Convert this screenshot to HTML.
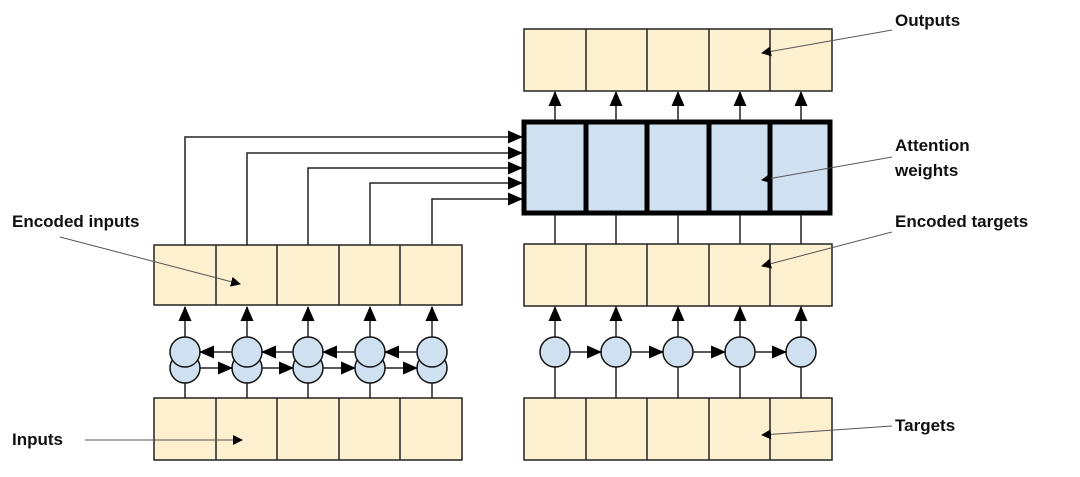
<!DOCTYPE html>
<html><head><meta charset="utf-8"><style>
body{margin:0;background:#fff;}
svg{display:block;}
text{font-family:"Liberation Sans",sans-serif;font-weight:bold;font-size:17px;fill:#111;}
</style></head><body>
<svg width="1080" height="477" viewBox="0 0 1080 477" xmlns="http://www.w3.org/2000/svg">
<defs>
<marker id="a" markerWidth="10" markerHeight="10" refX="9" refY="5" orient="auto" markerUnits="userSpaceOnUse"><path d="M0,0 L10,5 L0,10z" fill="#000"/></marker>
<marker id="b" markerWidth="15" markerHeight="13" refX="14" refY="6.5" orient="auto" markerUnits="userSpaceOnUse"><path d="M0,0 L15,6.5 L0,13z" fill="#000"/></marker>
</defs>
<g stroke="#222" stroke-width="1.5" fill="#fdf0cf">
<rect x="154" y="245" width="308" height="60"/>
<rect x="154" y="398" width="308" height="62"/>
<rect x="524" y="29" width="308" height="62"/>
<rect x="524" y="244" width="308" height="62"/>
<rect x="524" y="398" width="308" height="62"/>
<path d="M216 245V305M277 245V305M339 245V305M400 245V305 M216 398V460M277 398V460M339 398V460M400 398V460 M586 29V91M647 29V91M709 29V91M770 29V91 M586 244V306M647 244V306M709 244V306M770 244V306 M586 398V460M647 398V460M709 398V460M770 398V460" fill="none"/>
</g>
<rect x="524" y="122" width="306" height="91" fill="#cfe0f1" stroke="#000" stroke-width="5"/>
<path d="M586 122V213M647 122V213M709 122V213M770 122V213" stroke="#000" stroke-width="5"/>
<g stroke="#222" stroke-width="1.5" fill="none">
<path d="M185 245V137H522" marker-end="url(#b)"/>
<path d="M247 245V153H522" marker-end="url(#b)"/>
<path d="M308 245V168H522" marker-end="url(#b)"/>
<path d="M370 245V183H522" marker-end="url(#b)"/>
<path d="M432 245V199H522" marker-end="url(#b)"/>
<path d="M185 398V383M247 398V383M308 398V383M370 398V383M432 398V383"/>
<path d="M555 398V367M616 398V367M678 398V367M740 398V367M801 398V367"/>
<path d="M555 244V215M616 244V215M678 244V215M740 244V215M801 244V215"/>
<path d="M185 337V307" marker-end="url(#b)"/>
<path d="M247 337V307" marker-end="url(#b)"/>
<path d="M308 337V307" marker-end="url(#b)"/>
<path d="M370 337V307" marker-end="url(#b)"/>
<path d="M432 337V307" marker-end="url(#b)"/>
<path d="M555 337V307" marker-end="url(#b)"/>
<path d="M616 337V307" marker-end="url(#b)"/>
<path d="M678 337V307" marker-end="url(#b)"/>
<path d="M740 337V307" marker-end="url(#b)"/>
<path d="M801 337V307" marker-end="url(#b)"/>
<path d="M555 120V92" marker-end="url(#b)"/>
<path d="M616 120V92" marker-end="url(#b)"/>
<path d="M678 120V92" marker-end="url(#b)"/>
<path d="M740 120V92" marker-end="url(#b)"/>
<path d="M801 120V92" marker-end="url(#b)"/>
</g>
<g stroke="#111" stroke-width="1.5" fill="#cfe0f1">
<circle cx="185" cy="368" r="15"/><circle cx="247" cy="368" r="15"/><circle cx="308" cy="368" r="15"/><circle cx="370" cy="368" r="15"/><circle cx="432" cy="368" r="15"/>
<circle cx="185" cy="352" r="15"/><circle cx="247" cy="352" r="15"/><circle cx="308" cy="352" r="15"/><circle cx="370" cy="352" r="15"/><circle cx="432" cy="352" r="15"/>
<circle cx="555" cy="352" r="15"/><circle cx="616" cy="352" r="15"/><circle cx="678" cy="352" r="15"/><circle cx="740" cy="352" r="15"/><circle cx="801" cy="352" r="15"/>
</g>
<g stroke="#222" stroke-width="1.5" fill="none">
<path d="M200 368H232" marker-end="url(#b)"/>
<path d="M262 368H293" marker-end="url(#b)"/>
<path d="M323 368H355" marker-end="url(#b)"/>
<path d="M385 368H417" marker-end="url(#b)"/>
<path d="M232 352H200" marker-end="url(#b)"/>
<path d="M293 352H262" marker-end="url(#b)"/>
<path d="M355 352H323" marker-end="url(#b)"/>
<path d="M417 352H385" marker-end="url(#b)"/>
<path d="M570 352H601" marker-end="url(#b)"/>
<path d="M631 352H663" marker-end="url(#b)"/>
<path d="M693 352H725" marker-end="url(#b)"/>
<path d="M755 352H786" marker-end="url(#b)"/>
</g>
<text x="895" y="26">Outputs</text>
<text x="895" y="151">Attention</text>
<text x="895" y="176">weights</text>
<text x="895" y="227">Encoded targets</text>
<text x="895" y="431">Targets</text>
<text x="12" y="227">Encoded inputs</text>
<text x="12" y="445">Inputs</text>
<g stroke="#555" stroke-width="1" fill="none">
<path d="M892 30L762 53" marker-end="url(#a)"/>
<path d="M892 157L762 180" marker-end="url(#a)"/>
<path d="M892 232L762 266" marker-end="url(#a)"/>
<path d="M892 426L762 435" marker-end="url(#a)"/>
<path d="M60 237L240 284" marker-end="url(#a)"/>
<path d="M85 440L242 440" marker-end="url(#a)"/>
</g>
</svg>
</body></html>
